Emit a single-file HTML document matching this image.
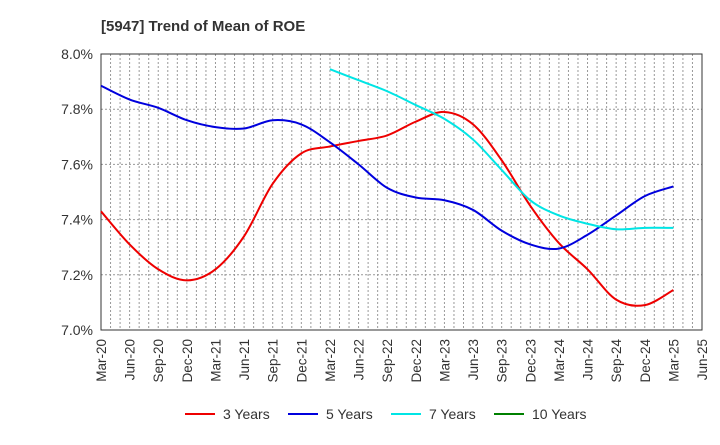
<!DOCTYPE html>
<html><head><meta charset="utf-8"><style>
body{margin:0;background:#fff;font-family:"Liberation Sans",sans-serif;}
</style></head><body>
<svg id="c" width="720" height="440" xmlns="http://www.w3.org/2000/svg">
<text x="101" y="31" font-size="15" font-weight="bold" fill="#333">[5947]  Trend of Mean of ROE</text>
<g id="grid"></g><g id="axes"></g><g id="series"></g>
<g id="legend"></g>
</svg>
<script>
const xLabels=["Mar-20","Jun-20","Sep-20","Dec-20","Mar-21","Jun-21","Sep-21","Dec-21","Mar-22","Jun-22","Sep-22","Dec-22","Mar-23","Jun-23","Sep-23","Dec-23","Mar-24","Jun-24","Sep-24","Dec-24","Mar-25","Jun-25"];
const yTicks=[7.0,7.2,7.4,7.6,7.8,8.0];
const s3=[7.43,7.31,7.22,7.18,7.22,7.34,7.53,7.64,7.665,7.685,7.705,7.755,7.79,7.745,7.615,7.45,7.315,7.22,7.11,7.09,7.145];
const s5=[7.885,7.835,7.805,7.76,7.735,7.73,7.76,7.745,7.68,7.6,7.515,7.48,7.47,7.435,7.36,7.31,7.295,7.345,7.415,7.485,7.52];
const s7=[null,null,null,null,null,null,null,null,7.945,7.905,7.865,7.815,7.765,7.69,7.58,7.47,7.415,7.385,7.365,7.37,7.37];
const s10=[];
const L=101,R=702,T=54,B=330;
const NS="http://www.w3.org/2000/svg";
const xq=i=>L+(R-L)*i/21;
const y=v=>B-(v-7.0)/1.0*(B-T);
function mk(tag,attrs,parent){const e=document.createElementNS(NS,tag);for(const k in attrs)e.setAttribute(k,attrs[k]);document.getElementById(parent).appendChild(e);return e;}
for(let m=1;m<63;m++){const x=L+(R-L)*m/63;
const g=mk('line',{x1:x,x2:x,y1:T,y2:B,stroke:'#999','stroke-width':1,'stroke-dasharray':'2,2'},'grid');

}
yTicks.forEach(v=>{
if(v>7.0&&v<8.0){const g=mk('line',{x1:L,x2:R,y1:y(v),y2:y(v),stroke:'#999','stroke-width':1,'stroke-dasharray':'2,2'},'grid');

}
const t=mk('text',{x:L-8,y:y(v)+5,'text-anchor':'end','font-size':14,fill:'#333'},'axes');t.textContent=v.toFixed(1)+'%';


});
const fr=mk('rect',{x:L,y:T,width:R-L,height:B-T,fill:'none',stroke:'#333','stroke-width':1},'axes');


xLabels.forEach((l,i)=>{const x=xq(i);
const t=mk('text',{x:0,y:0,'text-anchor':'end','font-size':13.5,fill:'#333',transform:`translate(${x+5},${B+9}) rotate(-90)`},'axes');t.textContent=l;

});
function path(arr){const p=[];arr.forEach((v,i)=>{if(v!=null)p.push([xq(i),y(v)]);});
if(p.length<2)return '';let d=`M${p[0][0]},${p[0][1]}`;
for(let i=0;i<p.length-1;i++){const p0=p[i-1]||p[i],p1=p[i],p2=p[i+1],p3=p[i+2]||p2;
d+=` C${p1[0]+(p2[0]-p0[0])/6},${p1[1]+(p2[1]-p0[1])/6} ${p2[0]-(p3[0]-p1[0])/6},${p2[1]-(p3[1]-p1[1])/6} ${p2[0]},${p2[1]}`;}return d;}
const ser=[[s3,'#ee0000','3 Years','line-3-years'],[s5,'#0000dd','5 Years','line-5-years'],[s7,'#00e5e5','7 Years','line-7-years'],[s10,'#008000','10 Years','line-10-years']];
ser.forEach(([a,c,n,id],k)=>{const d=path(a);
if(d){const e=mk('path',{d:d,fill:'none',stroke:c,'stroke-width':2},'series');

}
const lx=185+k*103;
const ll=mk('line',{x1:lx,x2:lx+30,y1:414,y2:414,stroke:c,'stroke-width':2},'legend');


const lt=mk('text',{x:lx+38,y:419,'font-size':14,fill:'#333'},'legend');lt.textContent=n;


});
</script>
</body></html>
